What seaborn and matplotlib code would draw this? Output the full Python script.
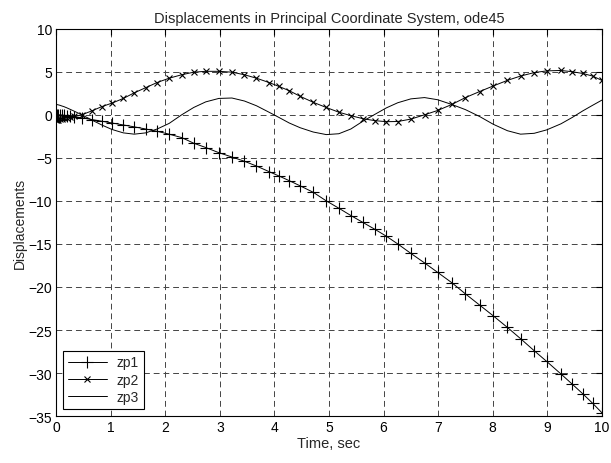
import numpy as np
import pandas as pd
import seaborn as sns
import matplotlib
matplotlib.use("Agg")
import matplotlib.pyplot as plt

# temps de sortie du solveur (pas adaptatifs)
t = [0, 0.02, 0.04, 0.07, 0.1, 0.14, 0.19, 0.25, 0.33, 0.47,
     0.65, 0.84, 1.02, 1.23, 1.43, 1.64, 1.85, 2.07, 2.30, 2.52,
     2.74, 2.98, 3.22, 3.45, 3.67, 3.90, 4.08, 4.27, 4.47, 4.71,
     4.95, 5.18, 5.40, 5.62, 5.84, 6.05, 6.26, 6.50, 6.75, 6.99,
     7.25, 7.50, 7.76, 8.01, 8.27, 8.51, 8.76, 8.99, 9.25, 9.46,
     9.65, 9.83, 10.0]

zp1 = [0, 0, -0.01, -0.02, -0.04, -0.06, -0.1, -0.15, -0.22, -0.35,
       -0.55, -0.75, -0.95, -1.18, -1.4, -1.65, -1.92, -2.25, -2.65, -3.3,
       -3.8, -4.4, -4.9, -5.4, -5.95, -6.6, -7.1, -7.65, -8.25, -9.0,
       -10.0, -10.85, -11.7, -12.5, -13.3, -14.1, -15.0, -16.1, -17.2, -18.3,
       -19.5, -20.8, -22.1, -23.35, -24.7, -26.0, -27.4, -28.65, -30.1, -31.3,
       -32.4, -33.5, -34.6]

zp2 = [-0.65, -0.62, -0.58, -0.53, -0.48, -0.42, -0.35, -0.28, -0.18, 0.0,
       0.45, 0.96, 1.35, 1.9, 2.55, 3.15, 3.75, 4.25, 4.65, 4.95,
       5.05, 5.05, 4.95, 4.65, 4.25, 3.75, 3.3, 2.8, 2.15, 1.45,
       0.85, 0.3, -0.1, -0.45, -0.68, -0.8, -0.78, -0.5, 0.0, 0.5,
       1.2, 2.0, 2.7, 3.35, 4.0, 4.5, 4.9, 5.1, 5.15, 5.0,
       4.8, 4.5, 4.0]

zp3 = [1.2, 1.18, 1.15, 1.1, 1.03, 0.95, 0.82, 0.65, 0.42, 0.0,
       -0.6, -1.2, -1.7, -2.1, -2.25, -2.1, -1.65, -1.0, 0.0, 0.85,
       1.5, 1.9, 1.95, 1.6, 1.05, 0.3, -0.3, -0.95, -1.5, -2.0,
       -2.3, -2.2, -1.65, -0.75, 0.05, 0.8, 1.4, 1.85, 2.0, 1.75,
       1.2, 0.6, -0.2, -1.1, -1.85, -2.25, -2.15, -1.75, -1.05, -0.3,
       0.45, 1.1, 1.7]

x_ticks = list(range(0, 11))
y_ticks = list(range(-35, 11, 5))

sns.set_style("white")
plt.rcParams['font.family'] = ['Liberation Sans', 'DejaVu Sans']
plt.rcParams['font.size'] = 10

fig = plt.figure(figsize=(6.11, 4.64), dpi=100)
ax = fig.add_axes([0.092, 0.101, 0.893, 0.835])

sns.lineplot(x=t, y=zp1, ax=ax, color='k', lw=0.7, marker='+', markersize=8,
             markeredgewidth=0.8, markeredgecolor='k', label='zp1', sort=False)
sns.lineplot(x=t, y=zp2, ax=ax, color='k', lw=0.7, marker='x', markersize=4,
             markeredgewidth=0.8, markeredgecolor='k', label='zp2', sort=False)
sns.lineplot(x=t, y=zp3, ax=ax, color='k', lw=0.7, label='zp3', sort=False)

ax.set_xlim(0, 10)
ax.set_ylim(-35, 10)
ax.set_xticks(x_ticks)
ax.set_yticks(y_ticks)
ax.tick_params(direction='in', top=True, right=True, length=4, width=0.8,
               labelsize=10, colors='k', pad=3)
ax.grid(True, color='#444444', linestyle=(0, (6, 4)), lw=0.7)
for s in ax.spines.values():
    s.set_color('k')
    s.set_linewidth(0.8)

ax.set_title("Displacements in Principal Coordinate System, ode45", fontsize=10.5, pad=5)
ax.set_xlabel("Time, sec", fontsize=10.5, labelpad=1)
ax.set_ylabel("Displacements", fontsize=10, labelpad=1)

leg = ax.legend(loc='lower left', fancybox=False, frameon=True, fontsize=10,
                borderaxespad=0.5, handlelength=2.8, borderpad=0.35, labelspacing=0.25,
                handletextpad=0.7)
leg.get_frame().set_edgecolor('k')
leg.get_frame().set_linewidth(0.8)
leg.get_frame().set_alpha(1)

fig.savefig("out.png", dpi=100, facecolor='white')
